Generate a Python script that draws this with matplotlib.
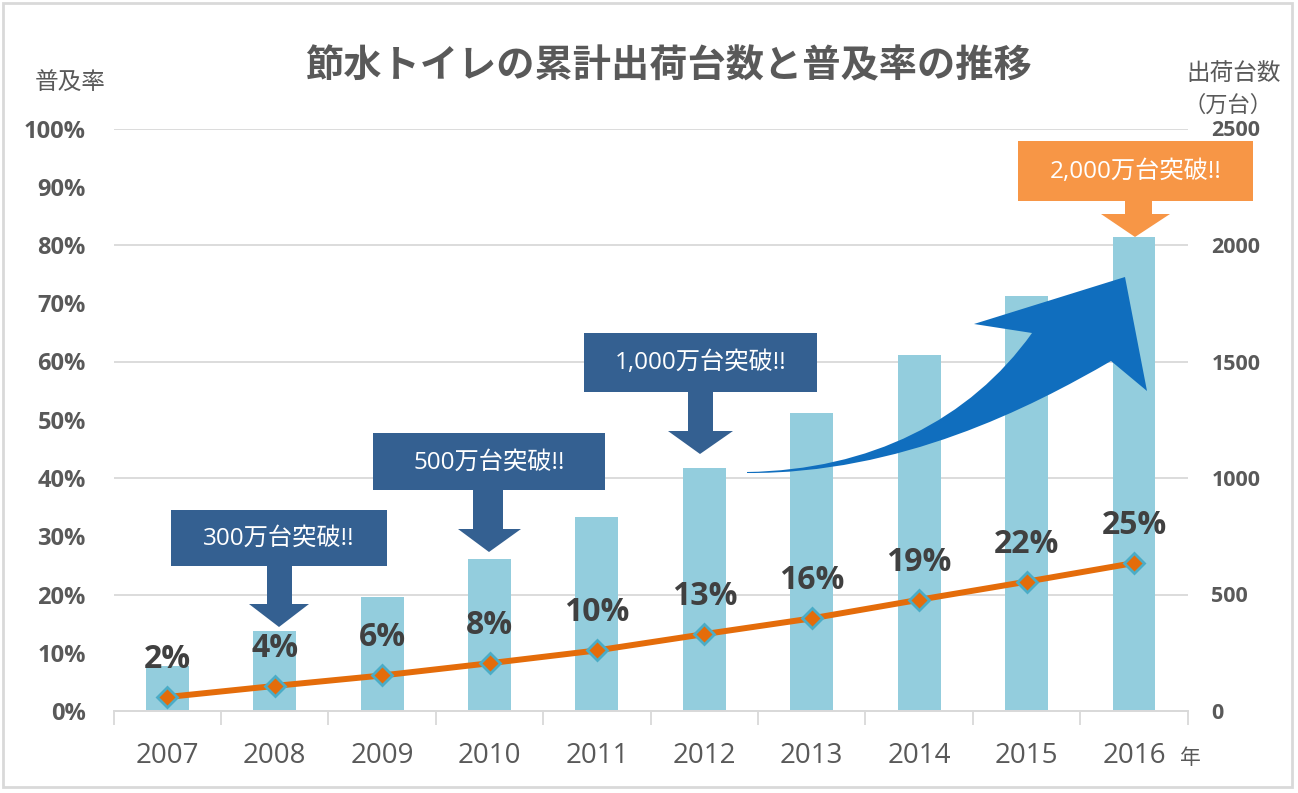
import matplotlib
matplotlib.use('Agg')
import matplotlib.pyplot as plt
import matplotlib.transforms as mtransforms
from matplotlib.path import Path
from matplotlib.patches import PathPatch, Polygon, Rectangle
from matplotlib.ticker import FixedLocator

plt.rcParams['font.family'] = ['Open Sans', 'Noto Sans CJK JP', 'DejaVu Sans']

# data
years = ['2007', '2008', '2009', '2010', '2011', '2012', '2013', '2014', '2015', '2016']
units = [195, 345, 490, 651, 834, 1042, 1280, 1530, 1780, 2036]      # 万台
rates = [2.4, 4.3, 6.1, 8.2, 10.4, 13.2, 15.9, 19.1, 22.2, 25.4]     # %
rate_ticks = [0, 10, 20, 30, 40, 50, 60, 70, 80, 90, 100]
unit_ticks = [0, 500, 1000, 1500, 2000, 2500]

title = '節水トイレの累計出荷台数と普及率の推移'
callouts = ['300万台突破!!', '500万台突破!!', '1,000万台突破!!', '2,000万台突破!!']

W, H = 1298, 793
GRAY = '#595959'
GRID = '#D9D9D9'
BAR = '#93CDDD'
LINE = '#E46C0A'
NAVY = '#346091'

fig = plt.figure(figsize=(W / 100, H / 100), dpi=100)
# reference pixels (origin top left) -> figure
px = mtransforms.Affine2D().scale(1 / W, -1 / H).translate(0, 1) + fig.transFigure

ax = fig.add_axes([113.6 / W, 1 - 711 / H, (1187.7 - 113.6) / W, (711 - 128.5) / H])
ax2 = ax.twinx()

x = list(range(len(years)))
ax.bar(x, units, width=0.4, color=BAR, zorder=2)
ax.set_ylim(0, 2500)
ax.set_xlim(-0.5, len(years) - 0.5)
ax.yaxis.set_major_locator(FixedLocator(unit_ticks))
ax.yaxis.tick_right()
ax.grid(axis='y', color=GRID, lw=1.3, zorder=0)
ax.set_axisbelow(True)
ax.set_xticks(x)
ax.set_xticklabels(years)
ax.xaxis.set_minor_locator(FixedLocator([i - 0.5 for i in range(len(years) + 1)]))
ax.tick_params(axis='x', which='major', length=0, pad=22, labelsize=20, labelcolor=GRAY)
ax.tick_params(axis='x', which='minor', length=10, width=1.3, color=GRID)
ax.tick_params(axis='y', length=0, pad=17, labelsize=15.5, labelcolor=GRAY)
for lab in ax.get_yticklabels():
    lab.set_fontweight('bold')

ax2.plot(x, rates, color=LINE, lw=4.3, marker='D', ms=10, mfc=LINE,
         mec='#4BACC6', mew=2, zorder=3, solid_capstyle='butt')
ax2.set_ylim(0, 100)
ax2.yaxis.set_major_locator(FixedLocator(rate_ticks))
ax2.yaxis.tick_left()
ax2.set_yticklabels([f'{t}%' for t in rate_ticks])
ax2.tick_params(axis='y', length=0, pad=20, labelsize=17, labelcolor=GRAY)
for lab in ax2.get_yticklabels():
    lab.set_fontweight('bold')
for r, xi in zip(rates, x):
    ax2.annotate(f'{r:.0f}%', (xi, r), xytext=(0, 21), textcoords='offset points',
                 ha='center', va='baseline', fontsize=23, fontweight='bold', color='#404040')

for a in (ax, ax2):
    for s in ('top', 'left', 'right'):
        a.spines[s].set_visible(False)
    a.spines['bottom'].set_color(GRID)
    a.spines['bottom'].set_linewidth(1.3)

# texts
fig.text(668 / W, 1 - 67 / H, title, ha='center', va='center', fontsize=27.5,
         fontweight='bold', color=GRAY)
fig.text(70 / W, 1 - 83 / H, '普及率', ha='center', va='center', fontsize=17, color=GRAY)
fig.text(1234 / W, 1 - 74 / H, '出荷台数', ha='center', va='center', fontsize=17, color=GRAY)
fig.text(1228 / W, 1 - 106 / H, '（万台）', ha='center', va='center', fontsize=16, color=GRAY)
fig.text(1190 / W, 1 - 759 / H, '年', ha='center', va='center', fontsize=15, color=GRAY)


def callout(box, shaft, head, head_top, tip, text, color):
    x0, y0, x1, y1 = box
    s0, s1 = shaft
    h0, h1 = head
    pts = [(x0, y0), (x1, y0), (x1, y1), (s1, y1), (s1, head_top), (h1, head_top),
           tip, (h0, head_top), (s0, head_top), (s0, y1), (x0, y1)]
    fig.add_artist(Polygon(pts, closed=True, transform=px, facecolor=color,
                           edgecolor='none', zorder=5))
    fig.text(((x0 + x1) / 2) / W, 1 - ((y0 + y1) / 2 + 1) / H, text, ha='center',
             va='center', fontsize=17.5, color='white', zorder=6)


callout((171, 510, 387, 566), (267, 292), (249, 309), 604, (279, 627), callouts[0], NAVY)
callout((373, 433, 605, 490), (473, 503), (458, 521), 529, (489, 552), callouts[1], NAVY)
callout((584, 333, 817, 392), (688, 713), (668, 733), 431, (700, 454), callouts[2], NAVY)
callout((1018, 141, 1253, 201), (1125, 1152), (1101, 1170), 214, (1135, 237), callouts[3], '#F79646')

# big curved arrow
verts = [(747, 472),
         (870, 470), (970, 420), (1032, 333),
         (974, 324), (1125, 277), (1147, 391), (1111, 361),
         (1030, 408), (900, 474), (747, 473),
         (747, 472)]
codes = [Path.MOVETO,
         Path.CURVE4, Path.CURVE4, Path.CURVE4,
         Path.LINETO, Path.LINETO, Path.LINETO, Path.LINETO,
         Path.CURVE4, Path.CURVE4, Path.CURVE4,
         Path.CLOSEPOLY]
fig.add_artist(PathPatch(Path(verts, codes), transform=px, facecolor='#106EBE',
                         edgecolor='none', zorder=4))

# outer frame
fig.add_artist(Rectangle((3, 3), 1289, 784, transform=px, fill=False,
                         edgecolor=GRID, lw=2, zorder=7))

fig.savefig('out.png', dpi=100)
